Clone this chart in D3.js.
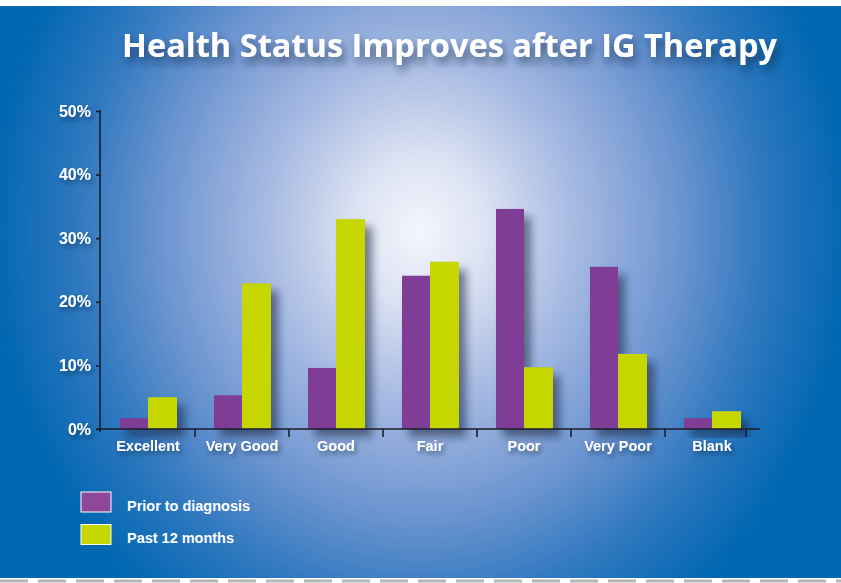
<!DOCTYPE html>
<html>
<head>
<meta charset="utf-8">
<script src="https://cdn.jsdelivr.net/npm/d3@7"></script>
<style>
	body { margin: 0; background: #fff; }
	svg { display: block; }
	.ticklabel { font-family: "Liberation Sans", Arial, sans-serif; font-weight: bold; fill: #fff; }
</style>
</head>
<body>
<svg id="chartsvg"></svg>
<script>
//Chart data
var categories = ["Excellent", "Very Good", "Good", "Fair", "Poor", "Very Poor", "Blank"];
var priorToDiagnosis = [1.7, 5.3, 9.6, 24.1, 34.6, 25.5, 1.7];
var past12Months = [5.0, 22.9, 33.0, 26.3, 9.7, 11.8, 2.8];
var seriesNames = ["Prior to diagnosis", "Past 12 months"];
var yTicks = [0, 10, 20, 30, 40, 50];
var title = "Health Status Improves after IG Therapy";

var W = 841, H = 583;
var colors = ["#803d96", "#c5d600"];
var legendColors = ["#8f4799", "#c5d600"];

var svg = d3.select("#chartsvg").attr("width", W).attr("height", H);
var defs = svg.append("defs");

//Background radial glow
var grad = defs.append("radialGradient").attr("id", "bg")
	.attr("gradientUnits", "userSpaceOnUse")
	.attr("cx", 420).attr("cy", 230).attr("r", 430)
	.attr("gradientTransform", "translate(420,230) scale(1,1.1) translate(-420,-230)");
[[0, "#f5f6fd"], [0.15, "#dde3f3"], [0.35, "#a9bce3"], [0.6, "#6d95d0"], [0.8, "#2f78bf"], [1, "#0067b1"]]
	.forEach(function(s) { grad.append("stop").attr("offset", s[0]).attr("stop-color", s[1]); });

//Shadows
function shadow(id, dx, dy, sd, op) {
	defs.append("filter").attr("id", id).attr("x", "-30%").attr("y", "-30%").attr("width", "180%").attr("height", "180%")
		.append("feDropShadow").attr("dx", dx).attr("dy", dy).attr("stdDeviation", sd)
		.attr("flood-color", "#14203a").attr("flood-opacity", op);
}
shadow("barshadow", 7, 8, 4, 0.55);
shadow("textshadow", 2, 3, 2.5, 0.55);
shadow("titleshadow", 3, 6, 4, 0.6);

svg.append("rect").attr("width", W).attr("height", H).attr("fill", "#fff");
svg.append("rect").attr("x", 0).attr("y", 6).attr("width", W).attr("height", 572).attr("fill", "url(#bg)");
svg.append("line").attr("x1", 0).attr("x2", W).attr("y1", 581).attr("y2", 581)
	.attr("stroke", "#b5b5b5").attr("stroke-width", 3).attr("stroke-dasharray", "28,10");

//Title
svg.append("text").attr("x", 122).attr("y", 57)
	.attr("textLength", 655).attr("lengthAdjust", "spacingAndGlyphs")
	.style("font-family", "'Open Sans', sans-serif").style("font-weight", "bold").style("font-size", "32px")
	.attr("fill", "#fff").attr("filter", "url(#titleshadow)")
	.text(title);

//Scales
var x = d3.scaleBand().domain(categories).range([101, 759]);
var y = d3.scaleLinear().domain([0, 50]).range([429, 111]);
var barW = 28;

//Bars
var groups = svg.append("g").selectAll("g").data(categories).join("g")
	.attr("filter", "url(#barshadow)");
groups.append("rect")
	.attr("x", function(d) { return x(d) + x.bandwidth() / 2 - barW; })
	.attr("width", barW)
	.attr("y", function(d, i) { return y(priorToDiagnosis[i]); })
	.attr("height", function(d, i) { return y(0) - y(priorToDiagnosis[i]); })
	.attr("fill", colors[0]);
groups.append("rect")
	.attr("x", function(d) { return x(d) + x.bandwidth() / 2; })
	.attr("width", barW + 1)
	.attr("y", function(d, i) { return y(past12Months[i]); })
	.attr("height", function(d, i) { return y(0) - y(past12Months[i]); })
	.attr("fill", colors[1]);

//Y axis
var yAxis = svg.append("g").attr("transform", "translate(100,0)")
	.call(d3.axisLeft(y).tickValues(yTicks).tickSize(4).tickFormat(function(d) { return d + "%"; }));
yAxis.select(".domain").attr("d", "M0,110V432").attr("stroke", "#1b1d2c").attr("stroke-width", 1.6);
yAxis.selectAll(".tick line").attr("stroke", "#1b1d2c").attr("stroke-width", 1.6);
yAxis.selectAll(".tick text").attr("class", "ticklabel").attr("x", -9).attr("dy", "0.32em")
	.style("font-size", "16px").attr("filter", "url(#textshadow)");

//X axis
var xa = svg.append("g");
xa.append("line").attr("x1", 97).attr("x2", 760).attr("y1", y(0)).attr("y2", y(0))
	.attr("stroke", "#1b1d2c").attr("stroke-width", 1.6);
var bounds = categories.slice(1).map(function(d) { return x(d); });
bounds.push(x.range()[1] - 13);
xa.selectAll(".bt").data(bounds).join("line").attr("class", "bt")
	.attr("x1", function(d) { return d; }).attr("x2", function(d) { return d; })
	.attr("y1", y(0)).attr("y2", y(0) + 8)
	.attr("stroke", "#1b1d2c").attr("stroke-width", 1.6);
xa.selectAll(".xl").data(categories).join("text").attr("class", "ticklabel xl")
	.attr("x", function(d) { return x(d) + x.bandwidth() / 2; })
	.attr("y", 451).attr("text-anchor", "middle")
	.style("font-size", "14.5px").attr("filter", "url(#textshadow)")
	.text(function(d) { return d; });

//Legend
var legend = svg.append("g").selectAll("g").data(seriesNames).join("g")
	.attr("transform", function(d, i) { return "translate(81," + (492 + i * 32.5) + ")"; });
legend.append("rect").attr("width", 30).attr("height", 20)
	.attr("fill", function(d, i) { return legendColors[i]; })
	.attr("stroke", "#fff").attr("stroke-width", 1);
legend.append("text").attr("class", "ticklabel").attr("x", 46).attr("y", 18.5)
	.attr("textLength", function(d, i) { return i === 0 ? 123 : 107; })
	.attr("lengthAdjust", "spacingAndGlyphs")
	.style("font-size", "14px")
	.text(function(d) { return d; });
</script>
</body>
</html>
